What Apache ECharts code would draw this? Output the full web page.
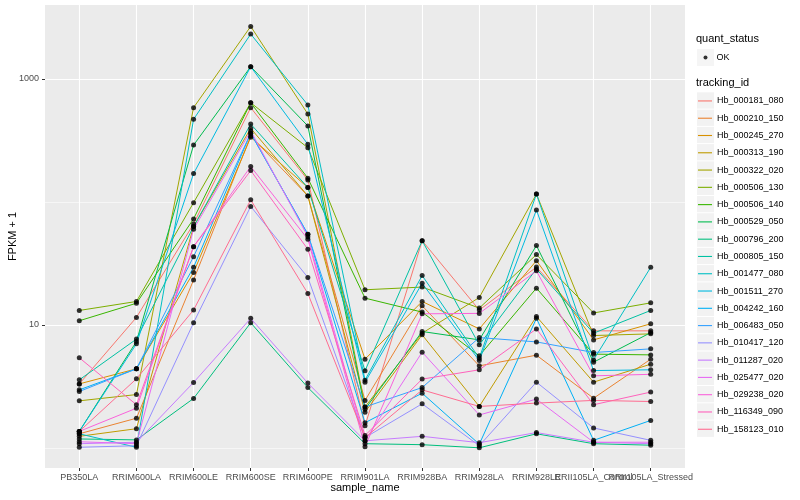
<!DOCTYPE html>
<html><head><meta charset="utf-8">
<script src="https://cdn.jsdelivr.net/npm/echarts@6/dist/echarts.min.js"></script>
<style>html,body{margin:0;padding:0;background:#fff}#c{width:800px;height:500px}</style>
</head><body><div id="c"></div>
<script>
const categories = ['PB350LA','RRIM600LA','RRIM600LE','RRIM600SE','RRIM600PE','RRIM901LA','RRIM928BA','RRIM928LA','RRIM928LE','RRII105LA_Control','RRII105LA_Stressed'];
const trackingIds = ['Hb_000181_080','Hb_000210_150','Hb_000245_270','Hb_000313_190','Hb_000322_020','Hb_000506_130','Hb_000506_140','Hb_000529_050','Hb_000796_200','Hb_000805_150','Hb_001477_080','Hb_001511_270','Hb_004242_160','Hb_006483_050','Hb_010417_120','Hb_011287_020','Hb_025477_020','Hb_029238_020','Hb_116349_090','Hb_158123_010'];
const lineColors = ['#F8766D','#EA8331','#D89000','#C09B00','#A3A500','#7CAE00','#39B600','#00BB4E','#00BF7D','#00C1A3','#00BFC4','#00BAE0','#00B0F6','#35A2FF','#9590FF','#C77CFF','#E76BF3','#FA62DB','#FF62BC','#FF6C91'];

const hb000181_080 = [3.31, 11.5, 66.2, 585, 151, 1.51, 48.4, 13.2, 29.5, 8.94, 8.94];
const hb000210_150 = [1.30, 1.74, 23.2, 344, 112, 2.43, 14.3, 4.64, 5.67, 2.53, 5.26];
const hb000245_270 = [3.31, 4.39, 26.7, 336, 131, 5.26, 15.5, 9.27, 33.3, 7.55, 10.2];
const hb000313_190 = [1.24, 1.43, 63, 397, 112, 1.95, 8.3, 2.17, 11.7, 3.42, 4.79];
const hb000322_020 = [2.41, 2.71, 585, 2680, 519, 2.15, 8.56, 16.7, 116, 8.19, 8.45];
const hb000506_130 = [13.1, 15.5, 98.6, 641, 276, 19.3, 20.3, 13.7, 37.3, 12.5, 15.1];
const hb000506_140 = [10.8, 15.0, 72.8, 641, 156, 16.5, 12.7, 5.6, 19.9, 5.78, 5.7];
const hb000529_050 = [1.36, 7.32, 290, 1260, 415, 2.06, 8.83, 7.55, 44.2, 4.97, 8.65];
const hb000796_200 = [1.18, 1.16, 2.52, 10.4, 3.09, 1.08, 1.06, 1.0, 1.30, 1.08, 1.05];
const hb000805_150 = [3.57, 7.66, 63, 430, 131, 4.23, 48.4, 6.88, 28.5, 8.56, 13.1];
const hb001477_080 = [1.30, 1.01, 470, 2320, 615, 3.55, 25.2, 5.36, 116, 5.19, 29.4];
const hb001511_270 = [1.36, 7.01, 170, 1260, 294, 3.41, 21.8, 5.12, 86, 4.25, 4.31];
const hb004242_160 = [2.96, 4.39, 29.4, 362, 54.6, 1.60, 2.78, 1.07, 11.3, 1.15, 1.67];
const hb006483_050 = [2.87, 4.39, 35.9, 362, 54.6, 2.15, 3.09, 7.88, 7.27, 5.96, 6.38];
const hb010417_120 = [1.01, 1.04, 10.4, 92, 24.3, 1.21, 2.28, 1.04, 3.42, 1.45, 1.15];
const hb011287_020 = [1.08, 1.11, 3.4, 11.3, 3.36, 1.14, 1.24, 1.10, 1.33, 1.11, 1.08];
const hb025477_020 = [1.12, 1.08, 60, 378, 52.2, 1.14, 6.0, 1.85, 2.49, 1.11, 1.11];
const hb029238_020 = [1.36, 2.10, 43.3, 194, 49.8, 1.02, 12.3, 12.4, 27.5, 3.85, 3.96];
const hb116349_090 = [5.4, 2.24, 43.3, 180, 41.2, 1.26, 3.62, 4.31, 9.27, 2.24, 2.84];
const hb158123_010 = [1.36, 3.64, 13.2, 104, 18, 1.21, 2.96, 2.17, 2.31, 2.43, 2.38];

const seriesValues = [hb000181_080, hb000210_150, hb000245_270, hb000313_190, hb000322_020, hb000506_130, hb000506_140, hb000529_050, hb000796_200, hb000805_150, hb001477_080, hb001511_270, hb004242_160, hb006483_050, hb010417_120, hb011287_020, hb025477_020, hb029238_020, hb116349_090, hb158123_010];

const yMajorTicks = [10, 1000];
const yMinorTicks = [1, 100];
const xTicks = categories.map((c, i) => i);
const xTicksEven = xTicks.filter(i => i % 2 === 0);
const xTicksOdd = xTicks.filter(i => i % 2 === 1);

const FONT = "'Liberation Sans', Arial, Helvetica, sans-serif";

const lineSeries = trackingIds.map((name, k) => ({
  name: name,
  type: 'line',
  xAxisIndex: 0, yAxisIndex: 0,
  data: seriesValues[k].map((v, i) => [i, v]),
  showSymbol: false,
  symbol: 'none',
  lineStyle: { color: lineColors[k], width: 1 },
  itemStyle: { color: lineColors[k] },
  emphasis: { disabled: true },
  silent: true,
  z: 2
}));

const pointData = [];
seriesValues.forEach(arr => arr.forEach((v, i) => pointData.push([i, v])));

const labelStyle = { formatter: v => categories[Math.round(v)], fontFamily: FONT, fontSize: 9, color: '#4D4D4D', margin: 5, hideOverlap: false, showMinLabel: true, showMaxLabel: true };

const chart = echarts.init(document.getElementById('c'), null, { renderer: 'canvas' });
chart.setOption({
  animation: false,
  backgroundColor: '#ffffff',
  textStyle: { fontFamily: FONT },
  title: [
    { text: 'quant_status', left: 696, top: 33, textStyle: { fontFamily: FONT, fontSize: 11, fontWeight: 'normal', color: '#000' }, padding: 0 },
    { text: 'tracking_id', left: 696, top: 77, textStyle: { fontFamily: FONT, fontSize: 11, fontWeight: 'normal', color: '#000' }, padding: 0 }
  ],
  grid: { left: 45, right: 115, top: 5, bottom: 32, show: true, backgroundColor: '#EBEBEB', borderWidth: 0, containLabel: false, outerBoundsMode: 'none' },
  xAxis: [
    {
      type: 'value', min: -0.6, max: 10.6, position: 'bottom',
      name: 'sample_name', nameLocation: 'middle', nameGap: 14.5, nameMoveOverlap: false,
      nameTextStyle: { fontFamily: FONT, fontSize: 11, color: '#000' },
      axisLine: { show: false, onZero: false },
      axisTick: { show: true, length: 3, lineStyle: { color: '#333333', width: 1 }, customValues: xTicks },
      axisLabel: Object.assign({ customValues: xTicksEven }, labelStyle),
      splitLine: { show: true, lineStyle: { color: '#FFFFFF', width: 1.1 } }
    },
    {
      type: 'value', min: -0.6, max: 10.6, position: 'bottom', offset: 0,
      axisLine: { show: false, onZero: false },
      axisTick: { show: false, customValues: xTicksOdd },
      axisLabel: Object.assign({ customValues: xTicksOdd }, labelStyle),
      splitLine: { show: false }
    }
  ],
  yAxis: [
    {
      type: 'log', min: 0.685, max: 4000, logBase: 10,
      name: 'FPKM + 1', nameLocation: 'middle', nameGap: 27, nameRotate: 90, nameMoveOverlap: false,
      nameTextStyle: { fontFamily: FONT, fontSize: 11, color: '#000' },
      axisLine: { show: false, onZero: false },
      axisTick: { show: true, length: 3, lineStyle: { color: '#333333', width: 1 }, customValues: yMajorTicks },
      axisLabel: { customValues: yMajorTicks, formatter: v => String(Math.round(v)), fontFamily: FONT, fontSize: 9, color: '#4D4D4D', margin: 6 },
      splitLine: { show: true, lineStyle: { color: '#FFFFFF', width: 1.1 } },
      z: 1
    },
    {
      type: 'log', min: 0.685, max: 4000, logBase: 10,
      position: 'left',
      axisLine: { show: false, onZero: false },
      axisTick: { show: false, customValues: yMinorTicks },
      axisLabel: { show: false, customValues: yMinorTicks },
      splitLine: { show: true, lineStyle: { color: '#FFFFFF', width: 0.55 } },
      z: 0
    }
  ],
  legend: [
    { data: ['OK'], left: 697, top: 49, orient: 'vertical', padding: 0, icon: 'rect', itemWidth: 17, itemHeight: 17, itemGap: 0, selectedMode: false, formatter: () => '', itemStyle: { color: '#F2F2F2', borderWidth: 0 }, textStyle: { fontSize: 9 } },
    { data: ['OK'], left: 703.5, top: 49, orient: 'vertical', padding: 0, icon: 'circle', itemWidth: 4, itemHeight: 4, itemGap: 0, selectedMode: false, itemStyle: { color: '#000', borderWidth: 0 }, textStyle: { fontFamily: FONT, fontSize: 9, color: '#000', lineHeight: 17, padding: [0, 0, 0, 4] } },
    { data: trackingIds, left: 697, top: 92.3, orient: 'vertical', padding: 0, icon: 'rect', itemWidth: 17, itemHeight: 16.28, itemGap: 1, selectedMode: false, formatter: () => '', itemStyle: { color: '#F2F2F2', borderWidth: 0 }, textStyle: { fontSize: 9 } },
    { data: trackingIds, left: 698, top: 92.3, orient: 'vertical', padding: 0, icon: 'rect', itemWidth: 14, itemHeight: 1.1, itemGap: 0, selectedMode: false, itemStyle: { borderWidth: 0 }, textStyle: { fontFamily: FONT, fontSize: 9, color: '#000', lineHeight: 17.28 } }
  ],
  series: lineSeries.concat([{
    name: 'OK',
    type: 'scatter',
    xAxisIndex: 0, yAxisIndex: 0,
    data: pointData,
    symbol: 'circle',
    symbolSize: 5,
    itemStyle: { color: '#000000' },
    emphasis: { disabled: true },
    silent: true,
    z: 3
  }])
});
</script></body></html>
